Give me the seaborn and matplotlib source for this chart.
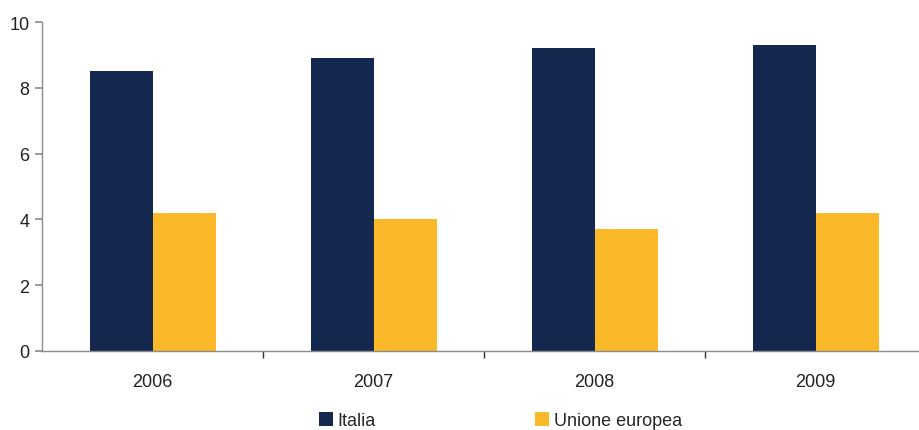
import numpy as np
import pandas as pd
import matplotlib.pyplot as plt
import seaborn as sns

years = ["2006", "2007", "2008", "2009"]
italia = [8.5, 8.9, 9.2, 9.3]
ue = [4.2, 4.0, 3.7, 4.2]
series = ["Italia", "Unione europea"]
colors = ["#13274f", "#fbb829"]

df = pd.DataFrame({
    "anno": years * 2,
    "valore": italia + ue,
    "serie": [series[0]] * len(years) + [series[1]] * len(years),
})

sns.set_theme(style="white")
plt.rcParams["font.family"] = ["Liberation Sans", "DejaVu Sans"]

fig = plt.figure(figsize=(9.2, 4.31), dpi=100)
ax = fig.add_axes([0.0457, 0.1833, 0.961, 0.7633])

sns.barplot(data=df, x="anno", y="valore", hue="serie", palette=colors,
            width=0.57, saturation=1, linewidth=0, ax=ax, legend=True)

ax.set_ylim(0, 10)
ax.set_xlim(-0.5, len(years) - 0.5)
ax.set_yticks(np.arange(0, 11, 2))
ax.set_xlabel("")
ax.set_ylabel("")

for s in ["top", "right"]:
    ax.spines[s].set_visible(False)
for s in ["left", "bottom"]:
    ax.spines[s].set_color("#8c8c8c")
    ax.spines[s].set_linewidth(1)

ax.tick_params(axis="y", which="major", left=True, length=5, color="#8c8c8c",
               labelsize=13, labelcolor="#222222", pad=4)
ax.tick_params(axis="x", which="major", bottom=False, labelsize=13,
               labelcolor="#222222", pad=10)
ax.set_xticks(np.arange(0.5, len(years) - 0.5, 1), minor=True)
ax.tick_params(axis="x", which="minor", bottom=True, length=5, color="#333333")

handles, labels = ax.get_legend_handles_labels()
ax.legend_.remove()
fig.legend(handles, labels, loc="lower center", bbox_to_anchor=(0.544, -0.036),
           ncol=2, frameon=False, fontsize=13, handlelength=0.8,
           handleheight=0.8, handletextpad=0.25, columnspacing=8.8)

fig.savefig("out.png", dpi=100)
